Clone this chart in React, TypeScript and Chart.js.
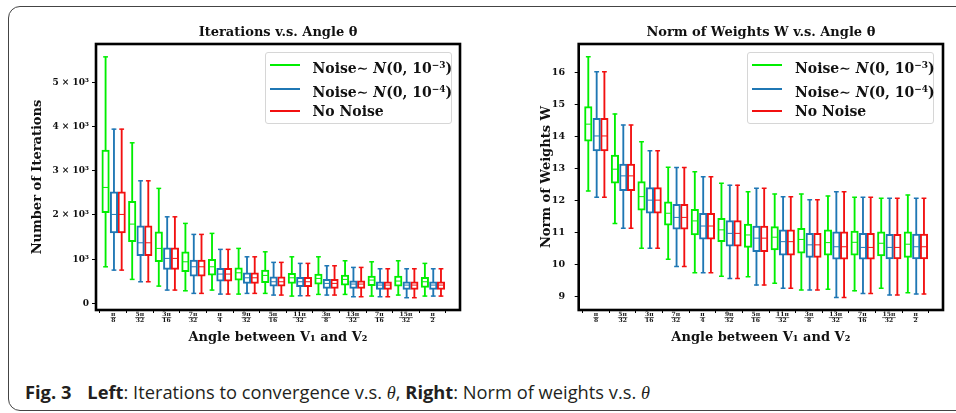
import React, { useEffect, useRef } from 'react';
import { Chart, registerables } from 'chart.js';

Chart.register(...registerables);

// ---------- data ----------
const TICK_NUMERATORS = ['π', '5π', '3π', '7π', 'π', '9π', '5π', '11π', '3π', '13π', '7π', '15π', 'π'];
const TICK_DENOMINATORS = ['8', '32', '16', '32', '4', '32', '16', '32', '8', '32', '16', '32', '2'];

const SERIES_NAMES = ['Noise∼ N(0, 10⁻³)', 'Noise∼ N(0, 10⁻⁴)', 'No Noise'];

// Left panel: Number of iterations
const ITER_TICKS = [0, 1000, 2000, 3000, 4000, 5000];
const ITER_TICK_LABELS = ['0', '10³', '2 × 10³', '3 × 10³', '4 × 10³', '5 × 10³'];

const ITER_N3_MAX = [5579, 3634, 2602, 1810, 1584, 1244, 1167, 1054, 1054, 964, 941, 964, 905];
const ITER_N3_Q3 = [3468, 2308, 1620, 1167, 995, 806, 753, 679, 663, 640, 618, 618, 588];
const ITER_N3_MED = [2624, 1794, 1244, 941, 828, 692, 633, 579, 565, 543, 527, 505, 489];
const ITER_N3_Q1 = [2050, 1394, 941, 715, 640, 527, 466, 452, 437, 414, 399, 391, 361];
const ITER_N3_MIN = [828, 543, 391, 285, 301, 210, 226, 165, 203, 203, 165, 188, 165];

const ITER_N4_MAX = [3943, 2774, 1959, 1561, 1222, 1054, 928, 905, 851, 814, 783, 783, 783];
const ITER_N4_Q3 = [2525, 1756, 1258, 980, 792, 692, 602, 588, 543, 512, 489, 489, 489];
const ITER_N4_MED = [2013, 1371, 1018, 828, 663, 579, 489, 489, 452, 437, 414, 414, 414];
const ITER_N4_Q1 = [1597, 1077, 769, 618, 505, 452, 391, 376, 339, 339, 316, 316, 316];
const ITER_N4_MIN = [753, 489, 301, 226, 210, 226, 188, 173, 188, 150, 150, 128, 165];

const ITER_NN_MAX = [3943, 2774, 1959, 1561, 1222, 1054, 928, 905, 851, 814, 783, 783, 783];
const ITER_NN_Q3 = [2525, 1756, 1258, 980, 792, 692, 602, 588, 543, 512, 489, 489, 489];
const ITER_NN_MED = [2013, 1371, 1018, 828, 663, 579, 489, 489, 452, 437, 414, 414, 414];
const ITER_NN_Q1 = [1597, 1077, 769, 618, 505, 452, 391, 376, 339, 339, 316, 316, 316];
const ITER_NN_MIN = [753, 489, 301, 226, 210, 226, 188, 173, 188, 150, 150, 128, 165];

// Right panel: Norm of weights
const NORM_TICKS = [9, 10, 11, 12, 13, 14, 15, 16];
const NORM_TICK_LABELS = ['9', '10', '11', '12', '13', '14', '15', '16'];

const NORM_N3_MAX = [16.5, 14.71, 13.84, 13.04, 12.9, 12.54, 12.27, 12.2, 12.2, 12.14, 12.1, 12.07, 12.17];
const NORM_N3_Q3 = [14.94, 13.42, 12.59, 11.96, 11.72, 11.44, 11.26, 11.18, 11.13, 11.08, 11.04, 11.02, 11.02];
const NORM_N3_MED = [14.39, 12.98, 12.12, 11.6, 11.36, 11.08, 10.92, 10.85, 10.78, 10.68, 10.69, 10.66, 10.63];
const NORM_N3_Q1 = [13.86, 12.54, 11.7, 11.23, 10.92, 10.71, 10.53, 10.45, 10.35, 10.29, 10.29, 10.26, 10.22];
const NORM_N3_MIN = [12.3, 11.28, 10.5, 10.16, 9.74, 9.63, 9.61, 9.41, 9.2, 9.22, 9.17, 9.25, 9.11];

const NORM_N4_MAX = [16.03, 14.36, 13.56, 13.03, 12.74, 12.48, 12.38, 12.12, 12.02, 12.27, 12.1, 12.07, 12.07];
const NORM_N4_Q3 = [14.57, 13.14, 12.4, 11.88, 11.6, 11.37, 11.2, 11.08, 10.97, 11.02, 10.97, 10.94, 10.95];
const NORM_N4_MED = [14.02, 12.77, 12.01, 11.47, 11.2, 10.97, 10.82, 10.71, 10.61, 10.55, 10.53, 10.53, 10.55];
const NORM_N4_Q1 = [13.55, 12.31, 11.6, 11.1, 10.79, 10.57, 10.4, 10.29, 10.22, 10.16, 10.16, 10.17, 10.17];
const NORM_N4_MIN = [12.1, 11.13, 10.5, 9.93, 9.74, 9.56, 9.35, 9.25, 9.2, 8.96, 9.09, 9.04, 9.07];

const NORM_NN_MAX = [16.03, 14.36, 13.56, 13.03, 12.74, 12.48, 12.38, 12.12, 12.02, 12.27, 12.1, 12.07, 12.07];
const NORM_NN_Q3 = [14.57, 13.14, 12.4, 11.88, 11.6, 11.37, 11.2, 11.08, 10.97, 11.02, 10.97, 10.94, 10.95];
const NORM_NN_MED = [14.02, 12.77, 12.01, 11.47, 11.2, 10.97, 10.82, 10.71, 10.61, 10.55, 10.53, 10.53, 10.55];
const NORM_NN_Q1 = [13.55, 12.31, 11.6, 11.1, 10.79, 10.57, 10.4, 10.29, 10.22, 10.16, 10.16, 10.17, 10.17];
const NORM_NN_MIN = [12.1, 11.13, 10.5, 9.93, 9.74, 9.56, 9.35, 9.25, 9.2, 8.96, 9.09, 9.04, 9.07];

// ---------- styles ----------
const COLORS = ['#00ee00', '#1f77b4', '#f21010'];
const OFFSETS = [-0.29, 0.025, 0.315];
const SERIF = '"DejaVu Serif", serif';
const INK = '#111';

type Stats = { min: number[]; q1: number[]; med: number[]; q3: number[]; max: number[] };

const ITER_SERIES: Stats[] = [
  { min: ITER_N3_MIN, q1: ITER_N3_Q1, med: ITER_N3_MED, q3: ITER_N3_Q3, max: ITER_N3_MAX },
  { min: ITER_N4_MIN, q1: ITER_N4_Q1, med: ITER_N4_MED, q3: ITER_N4_Q3, max: ITER_N4_MAX },
  { min: ITER_NN_MIN, q1: ITER_NN_Q1, med: ITER_NN_MED, q3: ITER_NN_Q3, max: ITER_NN_MAX },
];
const NORM_SERIES: Stats[] = [
  { min: NORM_N3_MIN, q1: NORM_N3_Q1, med: NORM_N3_MED, q3: NORM_N3_Q3, max: NORM_N3_MAX },
  { min: NORM_N4_MIN, q1: NORM_N4_Q1, med: NORM_N4_MED, q3: NORM_N4_Q3, max: NORM_N4_MAX },
  { min: NORM_NN_MIN, q1: NORM_NN_Q1, med: NORM_NN_MED, q3: NORM_NN_Q3, max: NORM_NN_MAX },
];

function buildDatasets(series: Stats[]) {
  const ds: any[] = [];
  series.forEach((s, k) => {
    const c = COLORS[k];
    const off = OFFSETS[k];
    ds.push({
      type: 'bar',
      label: SERIES_NAMES[k] + ' whisker',
      data: s.min.map((v, i) => ({ x: i + off, y: [v, s.max[i]] })),
      backgroundColor: c,
      borderWidth: 0,
      barThickness: 1.2,
      grouped: false,
      order: 3,
    });
    ds.push({
      type: 'bar',
      label: SERIES_NAMES[k],
      data: s.q1.map((v, i) => ({ x: i + off, y: [v, s.q3[i]] })),
      backgroundColor: '#ffffff',
      borderColor: c,
      borderWidth: 2,
      borderSkipped: false,
      barThickness: 7.5,
      grouped: false,
      order: 2,
    });
    ds.push({
      type: 'line',
      label: SERIES_NAMES[k] + ' median',
      data: s.med.map((v, i) => ({ x: i + off, y: v })),
      showLine: false,
      pointStyle: 'line',
      pointRadius: 2.6,
      pointBorderWidth: 1,
      pointBorderColor: c,
      order: 1,
    });
    const caps: { x: number; y: number }[] = [];
    s.min.forEach((v, i) => {
      caps.push({ x: i + off, y: v });
      caps.push({ x: i + off, y: s.max[i] });
    });
    ds.push({
      type: 'line',
      label: SERIES_NAMES[k] + ' caps',
      data: caps,
      showLine: false,
      pointStyle: 'line',
      pointRadius: 2.4,
      pointBorderWidth: 1.5,
      pointBorderColor: c,
      order: 1,
    });
  });
  return ds;
}

const framePlugin = {
  id: 'frameAndFractions',
  afterDatasetsDraw(chart: any) {
    const { ctx, chartArea: a } = chart;
    ctx.save();
    ctx.strokeStyle = '#000';
    ctx.lineWidth = 2.6;
    ctx.strokeRect(a.left, a.top, a.right - a.left, a.bottom - a.top);
    ctx.restore();
  },
  afterDraw(chart: any) {
    const { ctx } = chart;
    const sx = chart.scales.x;
    const o = sx.options.ticks;
    const size = o.font.size;
    const lh = size * o.font.lineHeight;
    ctx.save();
    ctx.font = `bold ${size}px ${SERIF}`;
    ctx.strokeStyle = INK;
    ctx.lineWidth = 0.6;
    const y = sx.top + sx.options.grid.tickLength + o.padding + lh;
    sx.ticks.forEach((t: any, i: number) => {
      const x = sx.getPixelForTick(i);
      const w = Math.max(ctx.measureText(TICK_NUMERATORS[i]).width, ctx.measureText(TICK_DENOMINATORS[i]).width) + 1;
      ctx.beginPath();
      ctx.moveTo(x - w / 2, y);
      ctx.lineTo(x + w / 2, y);
      ctx.stroke();
    });
    ctx.restore();
  },
};

type PanelSpec = {
  left: number;
  title: string;
  yTitle: string;
  yMin: number;
  yMax: number;
  yTicks: number[];
  yTickLabels: string[];
  yAxisWidth: number;
  yTitlePad: number;
  yTickPad: number;
  yTickSize: number;
  rightPad: number;
  series: Stats[];
};

function Panel({ spec }: { spec: PanelSpec }) {
  const ref = useRef<HTMLCanvasElement>(null);
  useEffect(() => {
    if (!ref.current) return;
    const chart = new Chart(ref.current, {
      type: 'bar',
      data: { datasets: buildDatasets(spec.series) },
      options: {
        responsive: false,
        animation: false,
        devicePixelRatio: 1,
        layout: { padding: { left: 0, right: spec.rightPad, top: 0, bottom: 0 } },
        plugins: {
          legend: { display: false },
          tooltip: { enabled: false },
          title: {
            display: true,
            text: spec.title,
            fullSize: false,
            color: INK,
            font: { family: SERIF, size: 13, weight: 'bold', lineHeight: 1.2 },
            padding: { top: 4.9, bottom: 3.5 },
          },
        },
        scales: {
          x: {
            type: 'linear',
            min: -0.65,
            max: 13.03,
            offset: false,
            afterBuildTicks: (scale: any) => {
              scale.ticks = TICK_NUMERATORS.map((_, i) => ({ value: i }));
            },
            afterFit: (scale: any) => {
              scale.height = 45;
            },
            ticks: {
              autoSkip: false,
              maxRotation: 0,
              minRotation: 0,
              padding: -2,
              color: INK,
              font: { family: SERIF, size: 6, weight: 'bold', lineHeight: 1.1 },
              callback: (_v: any, i: number) => [TICK_NUMERATORS[i], TICK_DENOMINATORS[i]],
            },
            grid: { display: true, drawOnChartArea: false, drawTicks: true, tickLength: 3, color: '#000', lineWidth: 1 },
            border: { display: false },
            title: {
              display: true,
              text: 'Angle between V₁ and V₂',
              color: INK,
              font: { family: SERIF, size: 13, weight: 'bold', lineHeight: 1.2 },
              padding: { top: 0, bottom: 9.5 },
            },
          },
          y: {
            type: 'linear',
            min: spec.yMin,
            max: spec.yMax,
            afterBuildTicks: (scale: any) => {
              scale.ticks = spec.yTicks.map((v) => ({ value: v }));
            },
            afterFit: (scale: any) => {
              scale.width = spec.yAxisWidth;
            },
            ticks: {
              padding: spec.yTickPad,
              color: INK,
              font: { family: SERIF, size: spec.yTickSize, weight: 'bold' },
              callback: (_v: any, i: number) => spec.yTickLabels[i],
            },
            grid: { display: true, drawOnChartArea: false, drawTicks: true, tickLength: 4, color: '#000', lineWidth: 1 },
            border: { display: false },
            title: {
              display: true,
              text: spec.yTitle,
              color: INK,
              font: { family: SERIF, size: 13, weight: 'bold', lineHeight: 1.2 },
              padding: { top: spec.yTitlePad, bottom: 0 },
            },
          },
        },
      } as any,
      plugins: [framePlugin],
    });
    return () => chart.destroy();
  }, []);
  return (
    <canvas
      ref={ref}
      width={450}
      height={335}
      style={{ position: 'absolute', left: spec.left, top: 20, width: 450, height: 335 }}
    />
  );
}

function Legend({ left, top, width, lineX, textX }: { left: number; top: number; width: number; lineX: number; textX: number }) {
  const rows = [11.6, 35.6, 58.3];
  return (
    <div
      style={{
        position: 'absolute',
        left,
        top,
        width,
        height: 72,
        boxSizing: 'border-box',
        border: '1px solid #d6d6d6',
        borderRadius: 3,
        background: 'rgba(255,255,255,0.85)',
      }}
    >
      {rows.map((ry, k) => (
        <React.Fragment key={k}>
          <div style={{ position: 'absolute', left: lineX, top: ry - 1, width: 30, height: 2, background: COLORS[k] }} />
          <div
            style={{
              position: 'absolute',
              left: textX,
              top: ry - 10,
              height: 20,
              lineHeight: '20px',
              whiteSpace: 'nowrap',
              fontFamily: SERIF,
              fontWeight: 'bold',
              fontSize: 14,
              color: INK,
            }}
          >
            {k < 2 ? (
              <>
                Noise∼ <i>N</i>(0, 10<span style={{ fontSize: 9, verticalAlign: 5 }}>{k === 0 ? '−3' : '−4'}</span>)
              </>
            ) : (
              SERIES_NAMES[2]
            )}
          </div>
        </React.Fragment>
      ))}
    </div>
  );
}

export default function App() {
  const leftSpec: PanelSpec = {
    left: 20,
    title: 'Iterations v.s. Angle θ',
    yTitle: 'Number of Iterations',
    yMin: -150,
    yMax: 5870,
    yTicks: ITER_TICKS,
    yTickLabels: ITER_TICK_LABELS,
    yAxisWidth: 76,
    yTitlePad: 10.2,
    yTickPad: 3,
    yTickSize: 9,
    rightPad: 10,
    series: ITER_SERIES,
  };
  const rightSpec: PanelSpec = {
    left: 500,
    title: 'Norm of Weights W v.s. Angle θ',
    yTitle: 'Norm of Weights W',
    yMin: 8.57,
    yMax: 16.9,
    yTicks: NORM_TICKS,
    yTickLabels: NORM_TICK_LABELS,
    yAxisWidth: 78.7,
    yTitlePad: 39.2,
    yTickPad: 9.7,
    yTickSize: 9.5,
    rightPad: 7,
    series: NORM_SERIES,
  };
  return (
    <div style={{ position: 'absolute', left: 0, top: 0, width: 956, height: 413, overflow: 'hidden', background: '#fff' }}>
      <div
        style={{
          position: 'absolute',
          left: 8,
          top: 6,
          width: 1000,
          height: 405,
          boxSizing: 'border-box',
          border: '1px solid #444',
          borderRadius: 12,
        }}
      />
      <Panel spec={leftSpec} />
      <Panel spec={rightSpec} />
      <Legend left={265} top={52} width={187} lineX={4} textX={46.5} />
      <Legend left={747} top={52} width={187} lineX={4} textX={47} />
      <div
        style={{
          position: 'absolute',
          left: 25,
          top: 380,
          height: 24,
          lineHeight: '24px',
          whiteSpace: 'nowrap',
          fontFamily: '"Open Sans", sans-serif',
          fontSize: 18.3,
          color: '#231f20',
        }}
      >
        <b>Fig. 3</b>
        <span style={{ display: 'inline-block', width: 16 }} />
        <b>Left</b>: Iterations to convergence v.s. <i style={{ fontFamily: '"Liberation Serif", serif' }}>θ</i>,{' '}
        <b>Right</b>: Norm of weights v.s. <i style={{ fontFamily: '"Liberation Serif", serif' }}>θ</i>
      </div>
    </div>
  );
}
